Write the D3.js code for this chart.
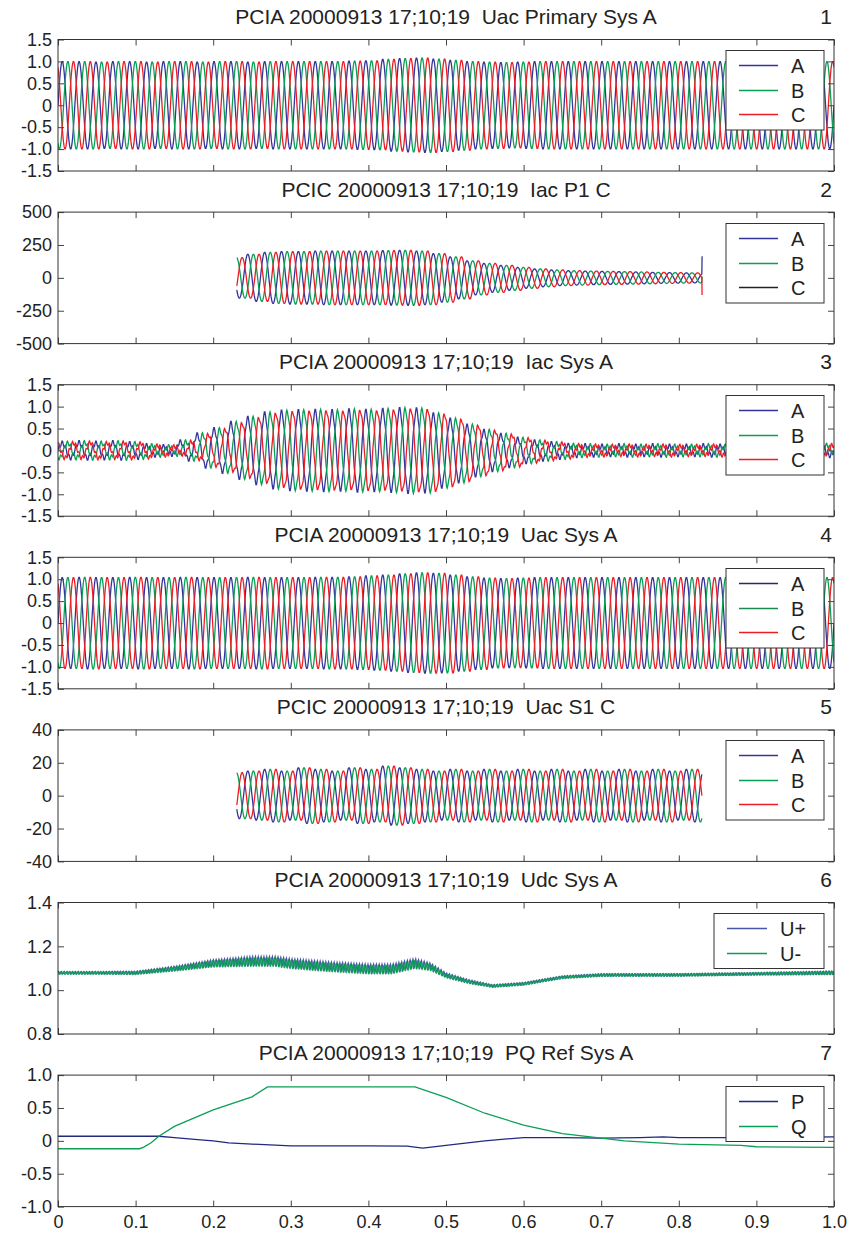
<!DOCTYPE html>
<html>
<head>
<meta charset="utf-8">
<script src="https://cdn.jsdelivr.net/npm/d3@7"></script>
<style>
  body { margin: 0; background: #fff; }
  svg { font-family: "Liberation Sans", Arial, sans-serif; }
  .tick text { fill: #222; }
</style>
</head>
<body>
<div id="chart"></div>
<script>
// time axis
const xTickValues = [0, 0.1, 0.2, 0.3, 0.4, 0.5, 0.6, 0.7, 0.8, 0.9, 1.0];
const xTickLabels = ["0", "0.1", "0.2", "0.3", "0.4", "0.5", "0.6", "0.7", "0.8", "0.9", "1.0"];
const cycleCount = 46;           // mains cycles over the record
const phaseLabels = ["A", "B", "C"];
const phaseColors = ["#34359b", "#0a9f55", "#ee1d25"];

// peak value of each cycle (null = no signal)
const uacPrimaryPeaks = [1.0, 1.0, 0.99, 1.0, 1.0, 0.99, 1.0, 1.0, 0.99, 1.0,
  1.0, 0.99, 1.0, 1.0, 1.0, 1.0, 1.0, 1.01, 1.02, 1.05,
  1.07, 1.08, 1.06, 1.03, 1.0, 0.99, 0.98, 0.99, 1.0, 1.0,
  1.0, 1.0, 1.0, 1.0, 1.0, 1.0, 1.0, 1.0, 1.0, 1.0,
  1.0, 1.0, 1.0, 1.0, 1.0, 1.0];
const iacP1Peaks = [null, null, null, null, null, null, null, null, null, 150,
  155, 180, 195, 200, 200, 205, 205, 205, 205, 208,
  210, 205, 185, 160, 130, 110, 95, 80, 68, 60,
  55, 52, 50, 48, 45, 42, 40, 38, 36, null,
  null, null, null, null, null, null];
const iacP1EndSpike = [165, 10, -130];
const iacSysPeaks = [0.17, 0.18, 0.17, 0.18, 0.16, 0.11, 0.09, 0.2, 0.36, 0.48,
  0.62, 0.74, 0.84, 0.88, 0.89, 0.9, 0.89, 0.91, 0.9, 0.92,
  0.94, 0.93, 0.82, 0.7, 0.56, 0.44, 0.35, 0.26, 0.2, 0.16,
  0.12, 0.11, 0.1, 0.11, 0.1, 0.11, 0.1, 0.1, 0.11, 0.1,
  0.11, 0.1, 0.11, 0.1, 0.11, 0.12];
const iacSysRipple = 0.05;      // 5th harmonic content seen on the current traces
const uacSysPeaks = [1.04, 1.05, 1.04, 1.04, 1.05, 1.04, 1.04, 1.05, 1.04, 1.04,
  1.04, 1.05, 1.04, 1.04, 1.04, 1.05, 1.05, 1.06, 1.08, 1.1,
  1.13, 1.15, 1.14, 1.1, 1.06, 1.03, 1.02, 1.03, 1.04, 1.04,
  1.04, 1.04, 1.04, 1.04, 1.04, 1.04, 1.04, 1.04, 1.04, 1.04,
  1.04, 1.04, 1.04, 1.04, 1.04, 1.04];
const uacS1Peaks = [null, null, null, null, null, null, null, null, null, 14,
  14, 15, 16, 15, 17, 16, 15, 17, 16, 18,
  17, 16, 15, 16, 15, 16, 15, 16, 15, 16,
  15, 16, 15, 16, 15, 16, 15, 16, 15, null,
  null, null, null, null, null, null];
const pcicStart = 0.23, pcicEnd = 0.83;

// DC voltage: level and ripple at breakpoints
const udcTimes  = [0, 0.05, 0.1, 0.15, 0.2, 0.25, 0.28, 0.3, 0.35, 0.4, 0.43, 0.46, 0.48, 0.5, 0.53, 0.56, 0.6, 0.65, 0.7, 0.8, 0.9, 1.0];
const udcPlus   = [1.08, 1.08, 1.08, 1.10, 1.125, 1.135, 1.135, 1.125, 1.11, 1.10, 1.10, 1.125, 1.11, 1.07, 1.04, 1.02, 1.03, 1.06, 1.07, 1.07, 1.075, 1.08];
const udcMinus  = [1.078, 1.078, 1.078, 1.096, 1.12, 1.128, 1.128, 1.118, 1.104, 1.094, 1.094, 1.118, 1.104, 1.066, 1.037, 1.018, 1.028, 1.058, 1.068, 1.069, 1.074, 1.079];
const udcRipple = [0.006, 0.006, 0.007, 0.01, 0.015, 0.02, 0.02, 0.02, 0.02, 0.02, 0.02, 0.02, 0.015, 0.01, 0.008, 0.006, 0.006, 0.006, 0.006, 0.006, 0.006, 0.008];

// PQ reference
const pTimes  = [0, 0.13, 0.15, 0.18, 0.2, 0.22, 0.25, 0.28, 0.3, 0.4, 0.45, 0.47, 0.5, 0.55, 0.6, 0.65, 0.7, 0.75, 0.78, 0.8, 0.9, 1.0];
const pValues = [0.07, 0.07, 0.05, 0.02, 0.0, -0.03, -0.05, -0.065, -0.075, -0.075, -0.08, -0.11, -0.07, 0.0, 0.05, 0.05, 0.04, 0.05, 0.06, 0.05, 0.05, 0.06];
const qTimes  = [0, 0.105, 0.11, 0.12, 0.13, 0.15, 0.2, 0.25, 0.27, 0.46, 0.5, 0.55, 0.6, 0.65, 0.7, 0.73, 0.8, 0.88, 0.9, 1.0];
const qValues = [-0.12, -0.12, -0.1, -0.03, 0.07, 0.22, 0.47, 0.67, 0.82, 0.82, 0.66, 0.42, 0.24, 0.11, 0.04, 0.0, -0.05, -0.07, -0.09, -0.1];

const y15Ticks = [-1.5, -1, -0.5, 0, 0.5, 1, 1.5];
const y15Labels = ["-1.5", "-1.0", "-0.5", "0", "0.5", "1.0", "1.5"];

const panels = [
  {title: "PCIA 20000913 17;10;19  Uac Primary Sys A", num: "1", domain: [-1.5, 1.5], ticks: y15Ticks, labels: y15Labels,
   kind: "ac", peaks: uacPrimaryPeaks, range: [0, 1], legend: phaseLabels, legendColors: phaseColors},
  {title: "PCIC 20000913 17;10;19  Iac P1 C", num: "2", domain: [-500, 500], ticks: [-500, -250, 0, 250, 500], labels: ["-500", "-250", "0", "250", "500"],
   kind: "ac", peaks: iacP1Peaks, range: [pcicStart, pcicEnd], spike: iacP1EndSpike, legend: phaseLabels, legendColors: ["#34359b", "#0a9f55", "#222"]},
  {title: "PCIA 20000913 17;10;19  Iac Sys A", num: "3", domain: [-1.5, 1.5], ticks: y15Ticks, labels: y15Labels,
   kind: "ac", peaks: iacSysPeaks, harmonic: iacSysRipple, range: [0, 1], legend: phaseLabels, legendColors: phaseColors},
  {title: "PCIA 20000913 17;10;19  Uac Sys A", num: "4", domain: [-1.5, 1.5], ticks: y15Ticks, labels: y15Labels,
   kind: "ac", peaks: uacSysPeaks, range: [0, 1], legend: phaseLabels, legendColors: ["#2a2a5e", "#1b8a50", "#ee1d25"]},
  {title: "PCIC 20000913 17;10;19  Uac S1 C", num: "5", domain: [-40, 40], ticks: [-40, -20, 0, 20, 40], labels: ["-40", "-20", "0", "20", "40"],
   kind: "ac", peaks: uacS1Peaks, range: [pcicStart, pcicEnd], legend: phaseLabels, legendColors: phaseColors},
  {title: "PCIA 20000913 17;10;19  Udc Sys A", num: "6", domain: [0.8, 1.4], ticks: [0.8, 1.0, 1.2, 1.4], labels: ["0.8", "1.0", "1.2", "1.4"],
   kind: "dc", legend: ["U+", "U-"], legendColors: ["#4a55a8", "#0a9f55"]},
  {title: "PCIA 20000913 17;10;19  PQ Ref Sys A", num: "7", domain: [-1, 1], ticks: [-1, -0.5, 0, 0.5, 1], labels: ["-1.0", "-0.5", "0", "0.5", "1.0"],
   kind: "pq", legend: ["P", "Q"], legendColors: ["#1f2a80", "#0a9f55"]}
];

const W = 849, H = 1234;
const left = 58, right = 834;
const top0 = 39.5, step = 172.6, plotH = 131.5;

const svg = d3.select("#chart").append("svg")
  .attr("width", W).attr("height", H);

const x = d3.scaleLinear().domain([0, 1]).range([left, right]);

function acPhase(peaks, range, k, harmonic) {
  const pts = [];
  const n = cycleCount * 30;
  for (let j = 0; j <= n; j++) {
    const t = j / n;
    if (t < range[0] || t > range[1]) continue;
    const pos = t * cycleCount - k / 3;
    const i = Math.max(0, Math.min(cycleCount - 1, Math.floor(pos)));
    let pk = peaks[i];
    if (pk == null) pk = peaks[Math.max(0, Math.min(cycleCount - 1, Math.round(pos)))];
    if (pk == null) continue;
    let v = pk * Math.sin(2 * Math.PI * pos);
    if (harmonic) v += harmonic * Math.sin(2 * Math.PI * 5 * pos + k);
    pts.push([t, v]);
  }
  return pts;
}

function dcTrace(levels, phase) {
  const level = d3.scaleLinear().domain(udcTimes).range(levels);
  const ripple = d3.scaleLinear().domain(udcTimes).range(udcRipple);
  const f = cycleCount * 6;
  const n = f * 8;
  const pts = [];
  for (let j = 0; j <= n; j++) {
    const t = j / n;
    pts.push([t, level(t) + ripple(t) * Math.sin(2 * Math.PI * (t * f + phase))]);
  }
  return pts;
}

panels.forEach((p, idx) => {
  const top = top0 + idx * step;
  const y = d3.scaleLinear().domain(p.domain).range([top + plotH, top]);
  const g = svg.append("g");

  g.append("clipPath").attr("id", "clip" + idx)
    .append("rect").attr("x", left).attr("y", top).attr("width", right - left).attr("height", plotH);

  const plot = g.append("g").attr("clip-path", `url(#clip${idx})`);
  const line = d3.line().x(d => x(d[0])).y(d => y(d[1]));

  if (p.kind === "ac") {
    [0, 1, 2].forEach(k => {
      const pts = acPhase(p.peaks, p.range, k, p.harmonic);
      if (p.spike) pts.push([p.range[1], p.spike[k]]);
      plot.append("path").datum(pts)
        .attr("fill", "none").attr("stroke", phaseColors[k])
        .attr("stroke-width", 1.3)
        .attr("d", line);
    });
  } else if (p.kind === "dc") {
    [[udcPlus, 0], [udcMinus, 0.3]].forEach((s, k) => {
      plot.append("path").datum(dcTrace(s[0], s[1]))
        .attr("fill", "none").attr("stroke", p.legendColors[k])
        .attr("stroke-width", 1.1).attr("d", line);
    });
  } else {
    [[pTimes, pValues], [qTimes, qValues]].forEach((s, k) => {
      plot.append("path").datum(s[0].map((t, i) => [t, s[1][i]]))
        .attr("fill", "none").attr("stroke", p.legendColors[k])
        .attr("stroke-width", 1.3).attr("d", line);
    });
  }

  // axes, ticks pointing inward on all four sides
  const isLast = idx === panels.length - 1;
  const axL = d3.axisLeft(y).tickValues(p.ticks).tickFormat((d, i) => p.labels[i]).tickSizeInner(-6).tickSizeOuter(0).tickPadding(6);
  const axR = d3.axisRight(y).tickValues(p.ticks).tickFormat("").tickSizeInner(-6).tickSizeOuter(0);
  const axT = d3.axisTop(x).tickValues(xTickValues).tickFormat("").tickSizeInner(-6).tickSizeOuter(0);
  const axB = d3.axisBottom(x).tickValues(xTickValues).tickFormat((d, i) => isLast ? xTickLabels[i] : "").tickSizeInner(-6).tickSizeOuter(0).tickPadding(9);

  [[axL, `translate(${left},0)`], [axR, `translate(${right},0)`], [axT, `translate(0,${top})`], [axB, `translate(0,${top + plotH})`]]
    .forEach(a => {
      const ag = g.append("g").attr("transform", a[1]).call(a[0]);
      ag.select(".domain").remove();
      ag.selectAll(".tick line").attr("stroke", "#444");
      ag.selectAll(".tick text").attr("font-size", 18).attr("font-family", "Liberation Sans, Arial, sans-serif");
    });

  g.append("rect").attr("x", left).attr("y", top).attr("width", right - left).attr("height", plotH)
    .attr("fill", "none").attr("stroke", "#333").attr("stroke-width", 1);

  g.append("text").attr("x", (left + right) / 2).attr("y", top - 15.5)
    .attr("text-anchor", "middle").attr("font-size", 21).attr("fill", "#222")
    .style("white-space", "pre").text(p.title);
  g.append("text").attr("x", right - 2).attr("y", top - 15.5)
    .attr("text-anchor", "end").attr("font-size", 21).attr("fill", "#222").text(p.num);

  // legend
  const narrow = p.kind === "dc";
  const lx = narrow ? 714 : 726, lw = narrow ? 110 : 98;
  const rowH = 24.5;
  const lh = p.legend.length * rowH + 6;
  const lg = g.append("g").attr("transform", `translate(${lx},${Math.round(top + 10.5) + 0.5})`);
  lg.append("rect").attr("width", lw).attr("height", lh)
    .attr("fill", "#fff").attr("stroke", "#333").attr("stroke-width", 1);
  p.legend.forEach((name, i) => {
    const ry = Math.round(15 + i * rowH);
    lg.append("line").attr("x1", 13).attr("x2", narrow ? 53 : 52).attr("y1", ry).attr("y2", ry)
      .attr("stroke", p.legendColors[i]).attr("stroke-width", 1.3);
    lg.append("text").attr("x", narrow ? 66 : 65).attr("y", ry + 7)
      .attr("font-size", 20).attr("fill", "#222").text(name);
  });
});
</script>
</body>
</html>
